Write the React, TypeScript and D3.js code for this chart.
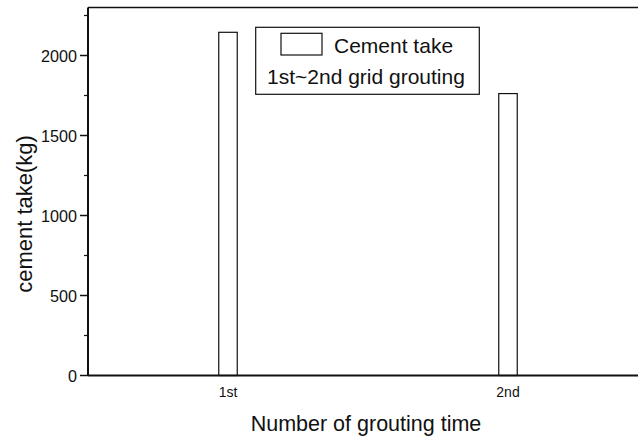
import React from "react";
import * as d3 from "d3";

const categories = ["1st", "2nd"];
const cementTake = [2145, 1762];
const yMajorTicks = [0, 500, 1000, 1500, 2000];
const yMinorTicks = [250, 750, 1250, 1750, 2250];
const legendTitle = "Cement take";
const legendSubtitle = "1st~2nd grid grouting";
const xTitle = "Number of grouting time";
const yTitle = "cement take(kg)";

const W = 638;
const H = 439;
const margin = { left: 88, top: 7.5, right: -10, bottom: 63.5 };
const FONT = "'Liberation Sans', Arial, sans-serif";

export default function App() {
  const x0 = margin.left;
  const x1 = W - margin.right;
  const y0 = H - margin.bottom;
  const y1 = margin.top;

  const x = d3.scaleLinear().domain([0, categories.length]).range([x0, x1]);
  const y = d3.scaleLinear().domain([0, 2300]).range([y0, y1]);
  const barW = 18.5;

  return (
    <svg
      width={W}
      height={H}
      style={{ position: "absolute", left: 0, top: 0, background: "#fff" }}
      fontFamily={FONT}
    >
      {/* bars */}
      {cementTake.map((v, i) => {
        const cx = x(i + 0.5);
        return (
          <rect
            key={categories[i]}
            x={cx - barW / 2}
            y={y(v)}
            width={barW}
            height={y0 - y(v)}
            fill="#fff"
            stroke="#111"
            strokeWidth={1.2}
          />
        );
      })}

      {/* frame */}
      <line x1={x0} x2={x1} y1={y1} y2={y1} stroke="#111" strokeWidth={1.5} />
      <line x1={x0} x2={x1} y1={y0} y2={y0} stroke="#111" strokeWidth={2} />
      <line x1={x0} x2={x0} y1={y1} y2={y0} stroke="#111" strokeWidth={2} />

      {/* y ticks */}
      {yMajorTicks.map((t) => (
        <g key={t}>
          <line x1={x0 - 8} x2={x0} y1={y(t)} y2={y(t)} stroke="#111" strokeWidth={1.5} />
          <text
            x={x0 - 11}
            y={y(t)}
            textAnchor="end"
            dominantBaseline="central"
            fontSize={16.2}
            fill="#111"
          >
            {t}
          </text>
        </g>
      ))}
      {yMinorTicks.map((t) => (
        <line key={t} x1={x0 - 4} x2={x0} y1={y(t)} y2={y(t)} stroke="#111" strokeWidth={1.2} />
      ))}

      {/* x labels */}
      {categories.map((c, i) => (
        <text
          key={c}
          x={x(i + 0.5)}
          y={392}
          textAnchor="middle"
          dominantBaseline="central"
          fontSize={14}
          fill="#111"
        >
          {c}
        </text>
      ))}

      {/* axis titles */}
      <text x={366} y={424} textAnchor="middle" dominantBaseline="central" fontSize={21.5} fill="#111">
        {xTitle}
      </text>
      <text
        transform={`translate(24,214) rotate(-90)`}
        textAnchor="middle"
        dominantBaseline="central"
        fontSize={22}
        fill="#111"
      >
        {yTitle}
      </text>

      {/* legend */}
      <g>
        <rect x={255.7} y={27.3} width={223.6} height={67} fill="#fff" stroke="#111" strokeWidth={1.2} />
        <rect x={281} y={33.3} width={41} height={21.7} fill="#fff" stroke="#111" strokeWidth={1.2} />
        <text x={334} y={45} dominantBaseline="central" fontSize={21} fill="#111">
          {legendTitle}
        </text>
        <text x={267} y={76} dominantBaseline="central" fontSize={21} fill="#111">
          {legendSubtitle}
        </text>
      </g>
    </svg>
  );
}
